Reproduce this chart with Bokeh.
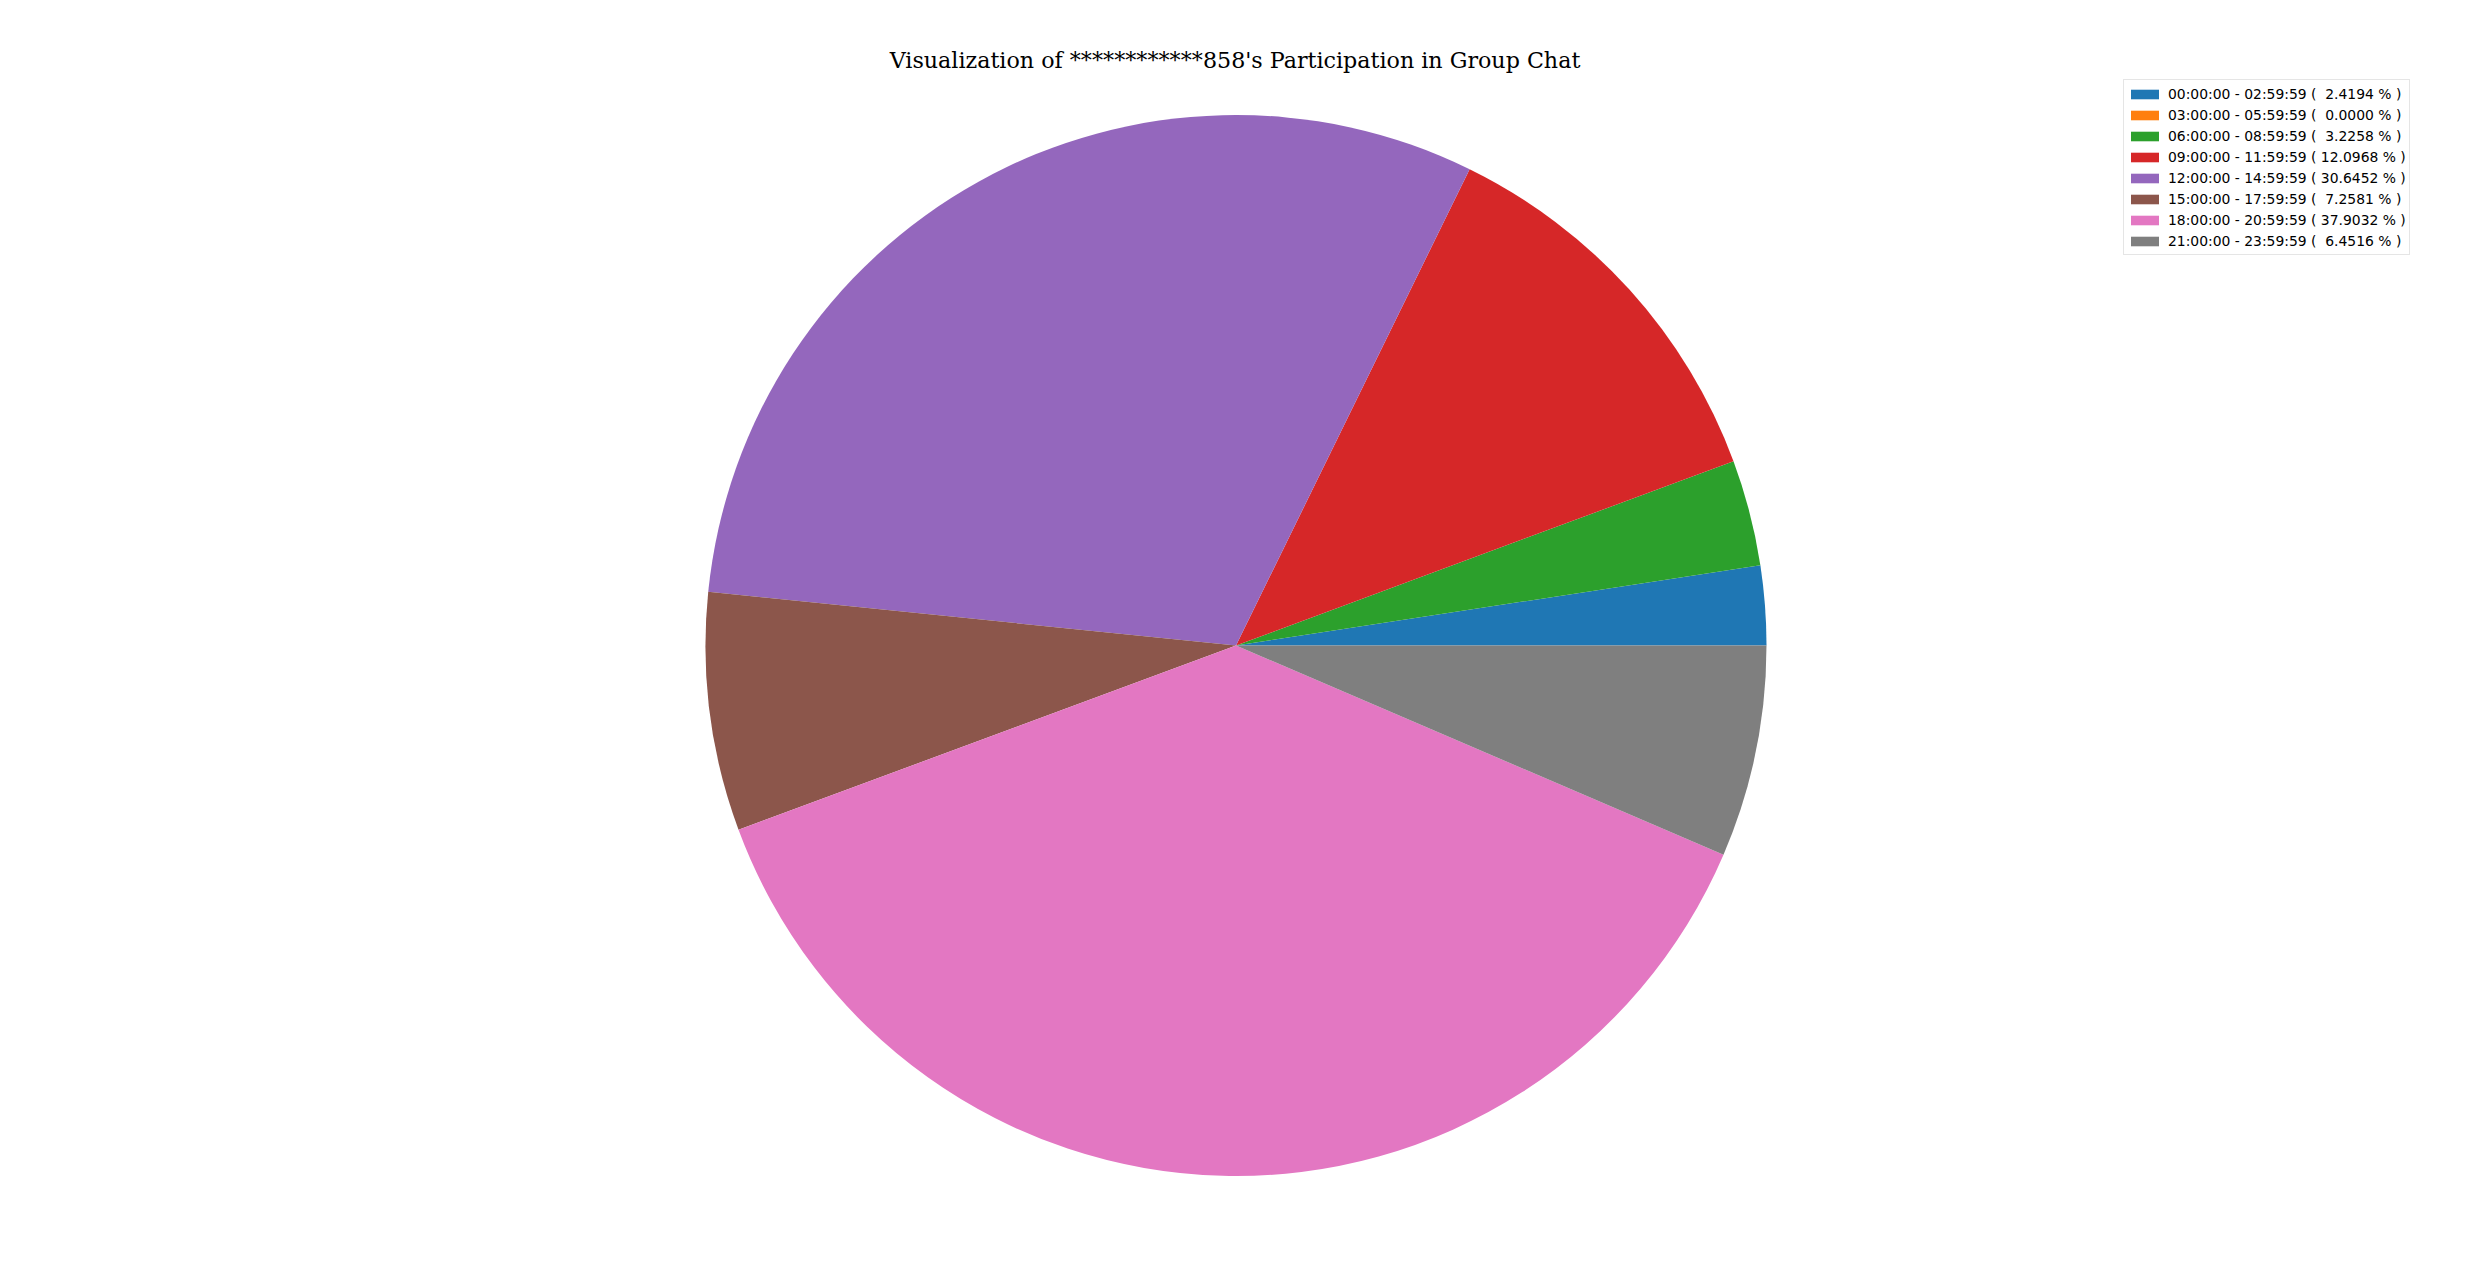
import numpy as np
from bokeh.plotting import figure
from bokeh.models import ColumnDataSource, Range1d, Legend, LegendItem, Label
from bokeh.embed import file_html
from bokeh.resources import INLINE

# ---- data ----
time_slots = [
    "00:00:00 - 02:59:59",
    "03:00:00 - 05:59:59",
    "06:00:00 - 08:59:59",
    "09:00:00 - 11:59:59",
    "12:00:00 - 14:59:59",
    "15:00:00 - 17:59:59",
    "18:00:00 - 20:59:59",
    "21:00:00 - 23:59:59",
]
percentages = [2.4194, 0.0000, 3.2258, 12.0968, 30.6452, 7.2581, 37.9032, 6.4516]
colors = ["#1f77b4", "#ff7f0e", "#2ca02c", "#d62728",
          "#9467bd", "#8c564b", "#e377c2", "#7f7f7f"]
title_text = "Visualization of ************858's Participation in Group Chat"

# ---- layout ----
W, H = 2454, 1254
cx, cy, radius = 1235.5, H - 645, 530.5

vals = np.array(percentages, dtype=float)
frac = vals / vals.sum()
ends = np.cumsum(frac) * 2 * np.pi
starts = np.concatenate([[0.0], ends[:-1]])
radii = np.where(vals > 0, radius, 0.0)   # zero-size slices are not drawn
labels = [f"{t} ( {v:7.4f} % )" for t, v in zip(time_slots, percentages)]

src = ColumnDataSource(dict(
    x=[cx] * len(vals), y=[cy] * len(vals), r=radii,
    start=starts, end=ends, color=colors, label=labels,
))

p = figure(width=W, height=H, x_range=Range1d(0, W), y_range=Range1d(0, H),
           x_axis_location=None, y_axis_location=None,
           toolbar_location=None, output_backend="svg", min_border=0)
p.grid.visible = False
p.outline_line_color = None
p.background_fill_color = "white"
p.border_fill_color = "white"

r = p.wedge(x="x", y="y", radius="r", start_angle="start", end_angle="end",
            fill_color="color", line_color=None, source=src)

items = [LegendItem(label=lab, renderers=[r], index=i) for i, lab in enumerate(labels)]
legend = Legend(items=items, location=(2123, H - 83 - 172),
                label_text_font="DejaVu Sans", label_text_font_size="13.9px",
                label_text_color="black",
                glyph_width=35, glyph_height=12, label_height=21, label_standoff=6,
                spacing=0, padding=3, margin=0,
                border_line_color="#cccccc", border_line_width=1,
                background_fill_color="white", background_fill_alpha=0.8)
p.add_layout(legend)

title = Label(x=1234.5, y=H - 59, text=title_text, text_align="center",
              text_baseline="alphabetic", text_font="DejaVu Serif",
              text_font_size="22.2px", text_color="black")
p.add_layout(title)

open("out.html", "w").write(file_html(p, INLINE))
